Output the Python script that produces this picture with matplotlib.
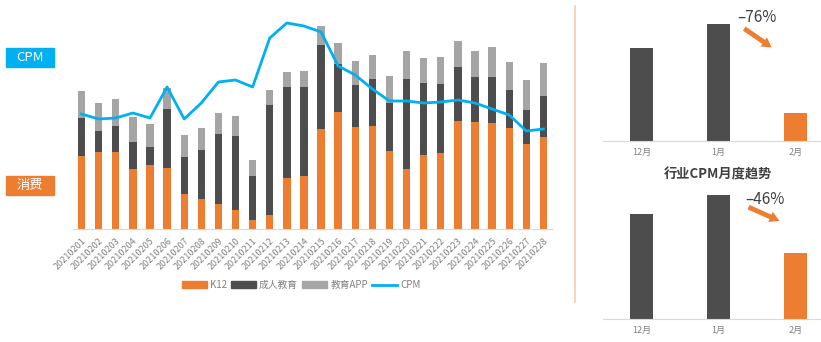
import matplotlib.pyplot as plt
from matplotlib.lines import Line2D
from matplotlib.patches import Patch, FancyArrowPatch

plt.rcParams['font.family'] = ['Noto Sans CJK SC', 'DejaVu Sans']

ORANGE = "#ED7D31"
DARK = "#4D4D4D"
GREY = "#A5A5A5"
BLUE = "#00B0F0"

dates = [f"202102{d:02d}" for d in range(1, 29)]
k12 = [73, 77, 77, 60, 64, 61, 35, 30, 25, 19, 9, 14, 51, 53,
       100, 117, 102, 103, 78, 60, 74, 76, 108, 107, 106, 101, 85, 92]
adult = [38, 21, 26, 27, 18, 59, 37, 49, 70, 74, 44, 110, 91, 89,
         84, 48, 42, 47, 48, 90, 72, 69, 54, 45, 46, 38, 34, 41]
app = [27, 28, 27, 25, 23, 21, 22, 22, 21, 20, 16, 15, 15, 16,
       19, 21, 24, 24, 27, 28, 25, 27, 26, 26, 30, 28, 30, 33]
cpm = [115, 110, 111, 116, 111, 142, 110, 126, 147, 149, 142, 191, 206, 203,
       197, 163, 154, 140, 128, 128, 126, 127, 129, 126, 120, 114, 98, 100]

months = ["12月", "1月", "2月"]
spend_month = [93, 117, 28]
cpm_month = [105, 124, 66]

W, H = 821, 342
fig = plt.figure(figsize=(W / 100, H / 100), dpi=100)


def box(x0, y0, x1, y1):
    return [x0 / W, 1 - y1 / H, (x1 - x0) / W, (y1 - y0) / H]


# -- main stacked chart -----------------------------------------------------
ax = fig.add_axes(box(73, 9, 552, 229))
x = range(len(dates))
bw = 0.43
ax.bar(x, k12, bw, color=ORANGE, label="K12")
ax.bar(x, adult, bw, bottom=k12, color=DARK, label="成人教育")
bot = [a + b for a, b in zip(k12, adult)]
ax.bar(x, app, bw, bottom=bot, color=GREY, label="教育APP")
ax.plot(x, cpm, color=BLUE, lw=2, label="CPM")
ax.set_xlim(-0.5, len(dates) - 0.5)
ax.set_ylim(0, 220)
ax.set_xticks(list(x))
ax.set_xticklabels(dates, rotation=45, ha="right", rotation_mode="anchor",
                   fontsize=6.5, color="#808080")
ax.tick_params(axis="x", length=0, pad=5)
ax.set_yticks([])
for s in ["top", "right", "left"]:
    ax.spines[s].set_visible(False)
ax.spines["bottom"].set_color("#D9D9D9")

handles = [Patch(color=ORANGE), Patch(color=DARK), Patch(color=GREY),
           Line2D([], [], color=BLUE, lw=2)]
fig.legend(handles, ["K12", "成人教育", "教育APP", "CPM"], loc="center",
           bbox_to_anchor=(301 / W, 1 - 285 / H), ncol=4, frameon=False,
           fontsize=7, labelcolor="#808080", handlelength=2.6, handleheight=0.6,
           columnspacing=0.4, handletextpad=0.3)

# left tags
for label, y0, c in [("CPM", 48, BLUE), ("消费", 176, ORANGE)]:
    fig.patches.append(plt.Rectangle((6 / W, 1 - (y0 + 19) / H), 48 / W, 19 / H,
                                     transform=fig.transFigure, color=c, zorder=0))
    fig.text(30 / W, 1 - (y0 + 9.5) / H, label, color="white", fontsize=9.5,
             ha="center", va="center")

# divider
fig.add_artist(Line2D([575 / W, 575 / W], [1 - 302 / H, 1 - 6 / H],
                      color="#F8CBAD", lw=1.2))


# -- right monthly panels -----------------------------------------------------
def month_panel(y_base, vals, pct, txt_xy, arr_from, arr_to):
    a = fig.add_axes(box(603, y_base - 135, 821, y_base))
    a.bar(range(3), vals, 0.3, color=[DARK, DARK, ORANGE])
    a.set_xlim(-0.5, 2.33)
    a.set_ylim(0, 135)
    a.set_xticks(range(3))
    a.set_xticklabels(months, fontsize=6.5, color="#808080")
    a.tick_params(axis="x", length=0, pad=5)
    a.set_yticks([])
    for s in ["top", "right", "left"]:
        a.spines[s].set_visible(False)
    a.spines["bottom"].set_color("#D9D9D9")
    fig.text(txt_xy[0] / W, 1 - txt_xy[1] / H, pct, fontsize=11, color="#404040",
             ha="center", va="center")
    fig.add_artist(FancyArrowPatch(
        (arr_from[0] / W, 1 - arr_from[1] / H), (arr_to[0] / W, 1 - arr_to[1] / H),
        transform=fig.transFigure,
        arrowstyle="simple,head_width=8,head_length=7,tail_width=3.5",
        color=ORANGE, lw=0))


month_panel(141, spend_month, "–76%", (757, 18), (742, 27), (774, 49))
month_panel(319, cpm_month, "–46%", (765, 200), (746, 206), (782, 222))
fig.text(718 / W, 1 - 174 / H, "行业CPM月度趋势", fontsize=9.5, color="#404040",
         ha="center", va="center", fontweight="bold")

fig.savefig("out.png", dpi=100)
